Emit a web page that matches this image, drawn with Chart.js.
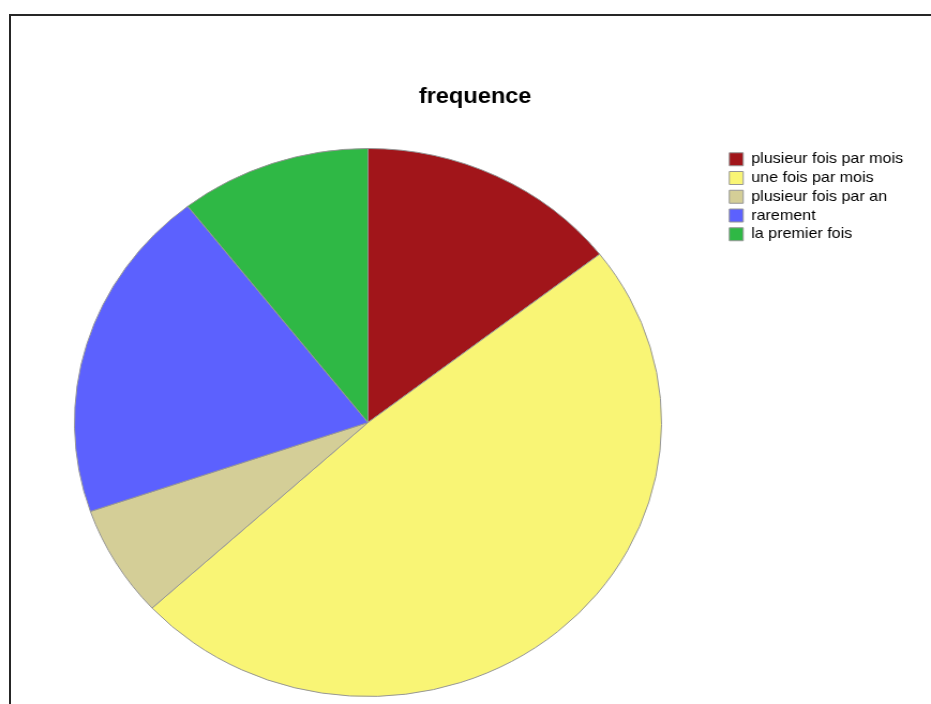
<!DOCTYPE html>
<html>
<head>
<meta charset="utf-8">
<title>frequence</title>
<script src="https://cdn.jsdelivr.net/npm/chart.js@4/dist/chart.umd.min.js"></script>
<style>
  html, body { margin: 0; padding: 0; background: #fff; overflow: hidden; width: 931px; height: 704px; }
  #frame {
    position: absolute; left: 9px; top: 14px; width: 980px; height: 740px;
    border: 2px solid #262626; box-sizing: border-box;
  }
  /* The chart is laid out on an 869px canvas and widened to the page width,
     so the pie reads as a slightly flattened ellipse. */
  #wrap {
    position: absolute; left: 0; top: 0; width: 869px; height: 704px;
    transform: scaleX(1.0713); transform-origin: 0 0;
  }
  canvas { display: block; }
</style>
</head>
<body>
<div id="frame"></div>
<div id="wrap"><canvas id="chart" width="869" height="704"></canvas></div>
<script>
// Answers to "frequence" (number of respondents per category)
const categories = [
  'plusieur fois par mois',
  'une fois par mois',
  'plusieur fois par an',
  'rarement',
  'la premier fois'
];
const counts = [11, 37, 5, 15, 8];
const chartTitle = 'frequence';

const sliceColors = ['#A1151A', '#F9F575', '#D4CE97', '#5C61FE', '#2FB845'];

Chart.defaults.font.family = '"Liberation Sans", Arial, Helvetica, sans-serif';
Chart.defaults.color = '#000';

// Keep the heading centred over the whole frame rather than the padded layout box.
const headingOffset = {
  id: 'headingOffset',
  afterLayout(chart) {
    const t = chart.titleBlock;
    if (!t) return;
    const shift = 12;
    t.left += shift;
    t.right += shift;
  }
};

new Chart(document.getElementById('chart'), {
  type: 'pie',
  data: {
    labels: categories,
    datasets: [{
      data: counts,
      backgroundColor: sliceColors,
      borderColor: '#969696',
      borderWidth: 1
    }]
  },
  options: {
    responsive: false,
    animation: false,
    events: [],
    layout: { padding: { left: 10, right: 16, top: 0, bottom: 7 } },
    plugins: {
      title: {
        display: true,
        text: chartTitle,
        font: { size: 22, weight: 'bold' },
        color: '#000',
        padding: { top: 83.5, bottom: 38.1 }
      },
      legend: {
        display: true,
        position: 'right',
        align: 'start',
        fullSize: false,
        labels: {
          boxWidth: 13,
          boxHeight: 13,
          padding: 3.75,
          color: '#000',
          font: { size: 15 }
        }
      },
      tooltip: { enabled: false }
    }
  },
  plugins: [headingOffset]
});
</script>
</body>
</html>
